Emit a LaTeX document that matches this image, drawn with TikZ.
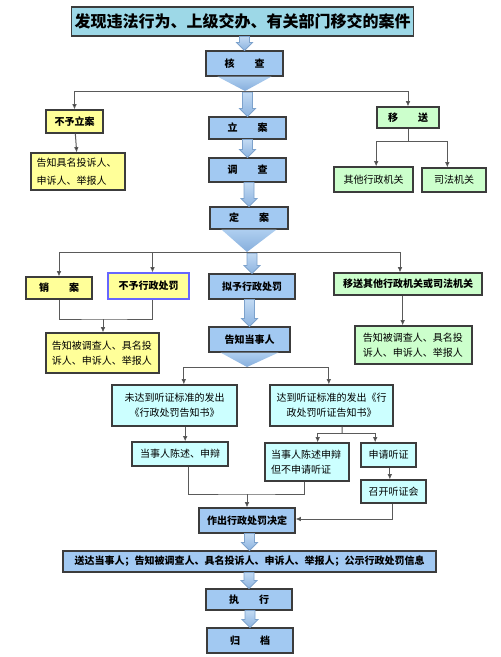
\documentclass[tikz,border=0pt]{standalone}
\usepackage{fontspec}
\setmainfont{Noto Sans CJK SC}
\usepackage{tikz}
\usetikzlibrary{arrows.meta, calc}

\definecolor{titlefill}{HTML}{9DD8E7}
\definecolor{bluefill}{HTML}{A2C9F2}
\definecolor{yellowfill}{HTML}{FFFF99}
\definecolor{greenfill}{HTML}{CCFFCC}
\definecolor{cyanfill}{HTML}{CCFFFF}
\definecolor{boxedge}{HTML}{3C3C3C}
\definecolor{linegray}{HTML}{5A5A5A}
\definecolor{arrowtop}{HTML}{C2DAF3}
\definecolor{arrowbot}{HTML}{8CB3E0}
\definecolor{arrowedge}{HTML}{7DA2CC}
\definecolor{funneltop}{HTML}{AFCFF0}
\definecolor{funnelbot}{HTML}{86AEDC}

% big hollow arrow between two boxes
\newcommand{\fatarrow}[2]{%
  \path[fatarrow] let \p1=(#1), \p2=(#2) in
    (\x2-3.75pt,\y1) -- (\x2+3.75pt,\y1) -- (\x2+3.75pt,\y2+6pt) -- (\x2+6pt,\y2+6pt)
    -- (\x2,\y2) -- (\x2-6pt,\y2+6pt) -- (\x2-3.75pt,\y2+6pt) -- cycle;}
% triangle under a box
\newcommand{\funnel}[2]{%
  \path[funnel] ([xshift=9pt]#1.south west) -- ([xshift=-9pt]#1.south east) -- (#2) -- cycle;}

\begin{document}
\begin{tikzpicture}[
    x=0.75pt, y=-0.75pt,
    font=\fontsize{7.5}{11.5}\selectfont,
    sz/.style 2 args={minimum width=#1*0.75pt, minimum height=#2*0.75pt},
    box/.style={rectangle, draw=boxedge, line width=0.8pt, inner sep=2pt, align=center},
    titlebox/.style={box, fill=titlefill, font=\fontsize{12}{14}\selectfont\bfseries},
    bluebox/.style={box, fill=bluefill, font=\fontsize{7.5}{11.5}\selectfont\bfseries},
    yellowbox/.style={box, fill=yellowfill, font=\fontsize{7.5}{11.5}\selectfont\bfseries},
    greenbox/.style={box, fill=greenfill, font=\fontsize{7.5}{11.5}\selectfont\bfseries},
    cyanbox/.style={box, fill=cyanfill},
    plain/.style={font=\fontsize{7.5}{11.5}\selectfont\mdseries},
    conn/.style={draw=linegray, line width=0.75pt},
    arrow/.style={conn, -{Latex[length=4pt, width=3.5pt, fill=black]}},
    fatarrow/.style={draw=arrowedge, line width=0.6pt, top color=arrowtop, bottom color=arrowbot},
    funnel/.style={top color=funneltop, bottom color=funnelbot}
]
    \useasboundingbox (0,0) rectangle (500,657);

    % top part
    \node[titlebox, sz={335}{29}] (title) at (242.5,21.5) {发现违法行为、上级交办、有关部门移交的案件};
    \node[bluebox, sz={77}{25}] (hecha) at (244.5,63.5) {核\hspace{2em}查};
    \node[yellowbox, sz={57}{23}] (buyulian) at (74.5,121.5) {不予立案};
    \node[yellowbox, plain, sz={94}{37}, text width=62pt, align=left,
          font=\fontsize{7.5}{13.5}\selectfont] (gaozhiA) at (78,171.5) {告知具名投诉人、\\申诉人、举报人};
    \node[greenbox, sz={62}{21}] (yisong) at (408,117.5) {移\hspace{2em}送};
    \node[greenbox, plain, sz={79}{25}] (qita) at (373.5,179.5) {其他行政机关};
    \node[greenbox, plain, sz={64}{24}] (sifa) at (454,180) {司法机关};
    \node[bluebox, sz={77}{22}] (lian) at (247.5,128) {立\hspace{2em}案};
    \node[bluebox, sz={77}{24}] (diaocha) at (247.5,170) {调\hspace{2em}查};
    \node[bluebox, sz={78}{22}] (dingan) at (249,218) {定\hspace{2em}案};

    % after 定案
    \node[yellowbox, sz={66}{22}] (xiaoan) at (59,288) {销\hspace{2em}案};
    \node[yellowbox, draw=blue!60, sz={81}{26}] (buyuxz) at (148.5,286) {不予行政处罚};
    \node[bluebox, sz={86}{25}] (niyu) at (252,286.5) {拟予行政处罚};
    \node[greenbox, sz={148}{22}] (yisongqt) at (408,284) {移送其他行政机关或司法机关};
    \node[yellowbox, plain, sz={113}{40}, text width=76pt, align=left] (gaozhiB) at (102.5,353)
        {告知被调查人、具名投\\诉人、申诉人、举报人};
    \node[bluebox, sz={81}{25}] (gaozhidsr) at (249.5,339.5) {告知当事人};
    \node[greenbox, plain, sz={117}{38}, text width=76pt, align=left] (gaozhiC) at (413.5,345)
        {告知被调查人、具名投\\诉人、申诉人、举报人};

    % hearing
    \node[cyanbox, sz={125}{41}] (weida) at (174.5,405.5) {未达到听证标准的发出\\《行政处罚告知书》};
    \node[cyanbox, sz={123}{41}] (dadao) at (331.5,405.5) {达到听证标准的发出《行\\政处罚听证告知书》};
    \node[cyanbox, sz={96}{24}] (chenshu) at (180,454) {当事人陈述、申辩};
    \node[cyanbox, sz={84}{38}, text width=54pt, align=left] (chenshuB) at (307,462) {当事人陈述申辩\\但不申请听证};
    \node[cyanbox, sz={55}{24}] (shenqing) at (388.5,455) {申请听证};
    \node[cyanbox, sz={65}{23}] (zhaokai) at (393.5,491.5) {召开听证会};

    % decision
    \node[bluebox, sz={96}{25}] (zuochu) at (247,520.5) {作出行政处罚决定};
    \node[bluebox, sz={373}{21}] (songda) at (249.5,561.5) {送达当事人；告知被调查人、具名投诉人、申诉人、举报人；公示行政处罚信息};
    \node[bluebox, sz={86}{21}] (zhixing) at (249,599.5) {执\hspace{2em}行};
    \node[bluebox, sz={86}{25}] (guidang) at (250,640.5) {归\hspace{2em}档};

    \coordinate (splitA) at (245,91);
    \coordinate (splitB) at (247,252);
    \coordinate (splitC) at (247,367);
    \coordinate (ysA) at (408,141);
    \coordinate (joinA) at (103,319);
    \coordinate (ddA) at (342,433);
    \coordinate (joinB) at (247,494);
    \coordinate (zkA) at (392,519);

    % big arrows and funnels
    \fatarrow{title.south}{hecha.north}
    \funnel{hecha}{splitA}
    \fatarrow{[yshift=-1pt]splitA}{lian.north}
    \fatarrow{lian.south}{diaocha.north}
    \fatarrow{diaocha.south}{dingan.north}
    \funnel{dingan}{splitB}
    \fatarrow{[yshift=-1pt]splitB}{niyu.north}
    \fatarrow{niyu.south}{gaozhidsr.north}
    \funnel{gaozhidsr}{splitC}
    \fatarrow{zuochu.south}{songda.north}
    \fatarrow{songda.south}{zhixing.north}
    \fatarrow{zhixing.south}{guidang.north}

    % thin connectors
    \draw[arrow] (splitA) -| (buyulian.north);
    \draw[arrow] (splitA) -| (yisong.north);
    \draw[arrow] (buyulian) -- (gaozhiA);
    \draw[conn] (yisong.south) -- (ysA);
    \draw[arrow] (ysA) -| ([xshift=2pt]qita.north);
    \draw[arrow] (ysA) -| ([xshift=-5pt]sifa.north);

    \draw[arrow] (splitB) -| (xiaoan.north);
    \draw[arrow] (splitB) -| ([xshift=3pt]buyuxz.north);
    \draw[arrow] (splitB) -| ([xshift=-6pt]yisongqt.north);
    \draw[conn] (xiaoan.south) |- (joinA) -| ([xshift=3pt]buyuxz.south);
    \draw[arrow] (joinA) -- (joinA |- gaozhiB.north);
    \draw[arrow] ([xshift=-4pt]yisongqt.south) -- ([xshift=-4pt]yisongqt.south |- gaozhiC.north);

    \draw[arrow] (splitC) -| ([xshift=7pt]weida.north);
    \draw[arrow] (splitC) -| ([xshift=-2pt]dadao.north);
    \draw[arrow] ([xshift=8pt]weida.south) -- ([xshift=8pt]weida.south |- chenshu.north);
    \draw[conn] ([xshift=8pt]dadao.south) -- (ddA);
    \draw[arrow] (ddA) -| ([xshift=8pt]chenshuB.north);
    \draw[arrow] (ddA) -| ([xshift=-10pt]shenqing.north);
    \draw[arrow] ([xshift=1pt]shenqing.south) -- ([xshift=1pt]shenqing.south |- zhaokai.north);
    \draw[conn] ([xshift=6pt]chenshu.south) |- (joinB) -| ([xshift=-2pt]chenshuB.south);
    \draw[arrow] (joinB) -- (zuochu.north);
    \draw[conn] ([xshift=-1pt]zhaokai.south) |- (zkA);
    \draw[arrow] (zkA) -- (zkA -| zuochu.east);
\end{tikzpicture}
\end{document}
